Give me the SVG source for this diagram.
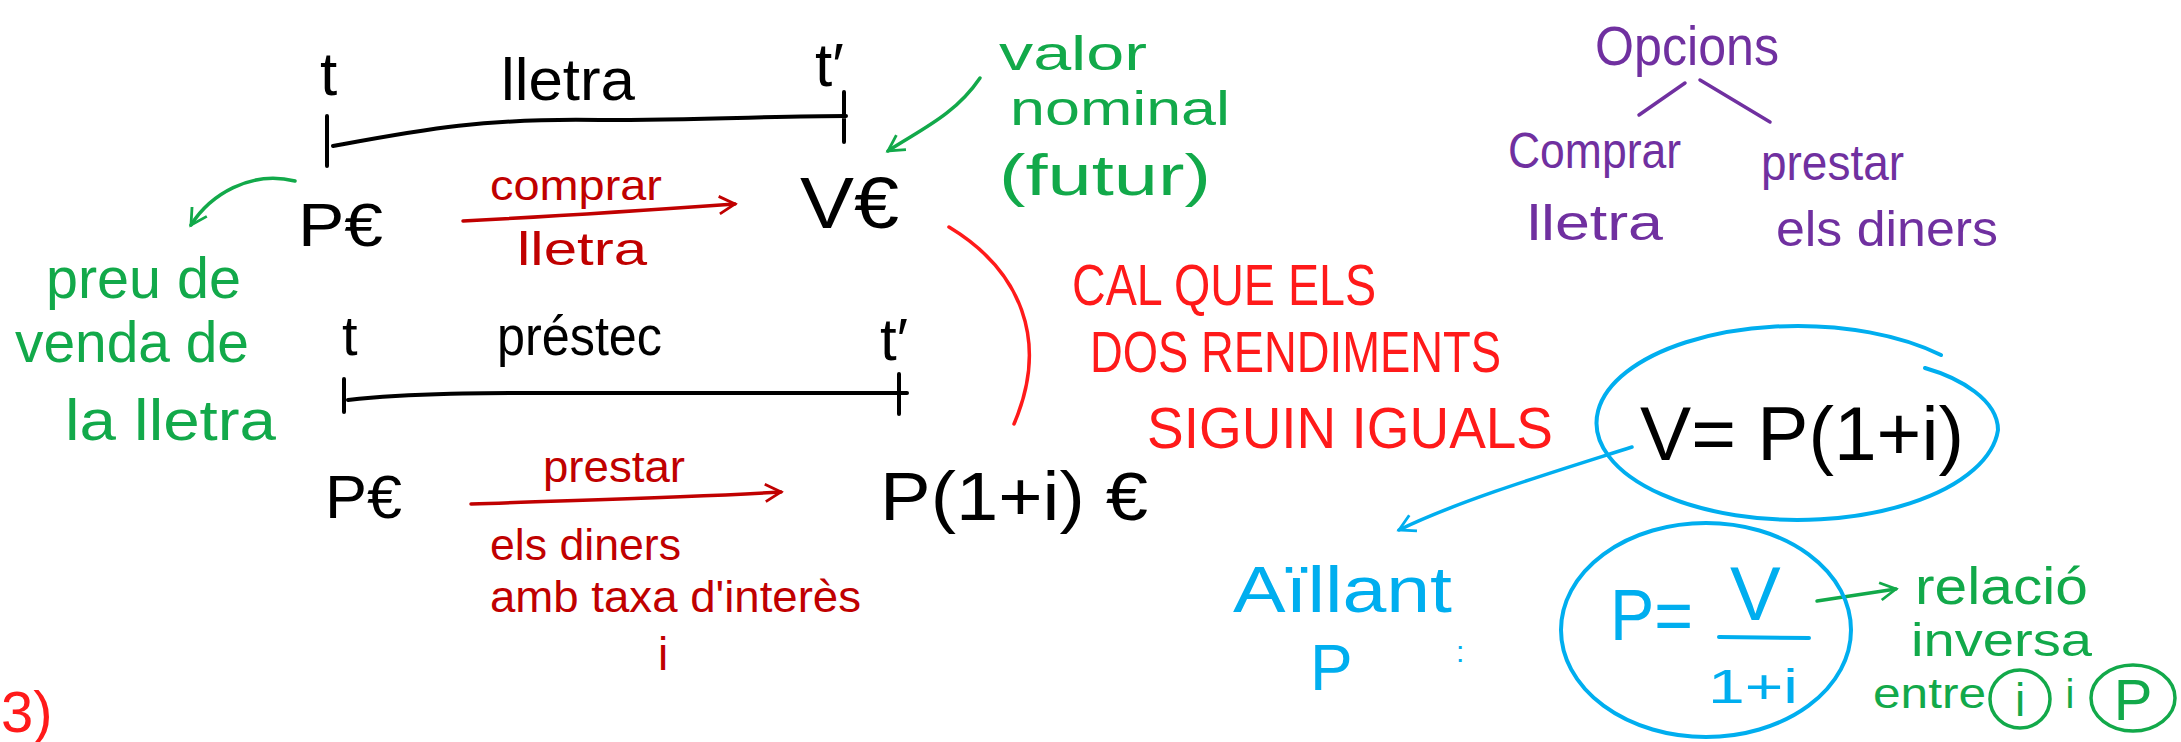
<svg xmlns="http://www.w3.org/2000/svg" width="2181" height="742" viewBox="0 0 2181 742">
<defs>
<style>
text{font-family:"Liberation Sans","DejaVu Sans",sans-serif;}
.k{fill:#000}
.g{fill:#12a94a}
.r{fill:#c00000}
.rb{fill:#ff1a1a}
.p{fill:#7030a0}
.b{fill:#00aeef}
.ln{fill:none;stroke-linecap:round;stroke-linejoin:round}
</style>
<marker id="ag" viewBox="0 0 12 12" refX="10" refY="6" markerWidth="6" markerHeight="6" orient="auto" markerUnits="strokeWidth"><path d="M1,1 L10,6 L1,11" fill="none" stroke="#12a94a" stroke-width="1.6"/></marker>
<marker id="ar" viewBox="0 0 12 12" refX="10" refY="6" markerWidth="6" markerHeight="6" orient="auto" markerUnits="strokeWidth"><path d="M1,1 L10,6 L1,11" fill="none" stroke="#c00000" stroke-width="1.6"/></marker>
<marker id="ab" viewBox="0 0 12 12" refX="10" refY="6" markerWidth="6" markerHeight="6" orient="auto" markerUnits="strokeWidth"><path d="M1,1 L10,6 L1,11" fill="none" stroke="#00aeef" stroke-width="1.6"/></marker>
</defs>
<rect width="2181" height="742" fill="#fff"/>

<g id="connectors">
<path class="ln" d="M327,116 L327,166 M333,146 C420,130 480,118 600,120 C700,120 780,116 846,116 M844,92 L844,142" stroke="#000" stroke-width="4"/>
<path class="ln" d="M344,379 L344,412 M348,400 C420,392 500,393 600,393 C700,393 800,393 907,393 M899,374 L899,414" stroke="#000" stroke-width="4"/>
<path class="ln" d="M463,221 C560,216 650,210 735,204" stroke="#c00000" stroke-width="3.5" marker-end="url(#ar)"/>
<path class="ln" d="M471,504 C580,500 680,498 781,492" stroke="#c00000" stroke-width="3.5" marker-end="url(#ar)"/>
<path class="ln" d="M980,78 C955,115 920,130 888,151" stroke="#12a94a" stroke-width="3.5" marker-end="url(#ag)"/>
<path class="ln" d="M295,181 C250,170 210,195 191,225" stroke="#12a94a" stroke-width="3.5" marker-end="url(#ag)"/>
<path class="ln" d="M949,227 C1020,270 1050,340 1014,424" stroke="#ff1a1a" stroke-width="3.5"/>
<path class="ln" d="M1685,83 L1639,115 M1700,80 L1770,122" stroke="#7030a0" stroke-width="3.5"/>
<path class="ln" d="M1632,447 C1560,470 1460,500 1399,530" stroke="#00aeef" stroke-width="3.5" marker-end="url(#ab)"/>
<path class="ln" d="M1817,601 L1896,589" stroke="#12a94a" stroke-width="3.5" marker-end="url(#ag)"/>
</g>

<g id="lletra-timeline">
<text class="k" x="320" y="95" font-size="62">t</text>
<text class="k" x="501" y="100" font-size="60" textLength="134" lengthAdjust="spacingAndGlyphs">lletra</text>
<text class="k" x="815" y="86" font-size="62">t′</text>
</g>
<g id="pe1"><text class="k" x="298" y="246" font-size="62" textLength="85" lengthAdjust="spacingAndGlyphs">P€</text></g>
<g id="ve"><text class="k" x="800" y="228" font-size="72" textLength="99" lengthAdjust="spacingAndGlyphs">V€</text></g>
<g id="comprar-lletra">
<text class="r" x="490" y="200" font-size="42" textLength="172" lengthAdjust="spacingAndGlyphs">comprar</text>
<text class="r" x="517" y="265" font-size="46" textLength="130" lengthAdjust="spacingAndGlyphs">lletra</text>
</g>
<g id="prestec-timeline">
<text class="k" x="342" y="355" font-size="56">t</text>
<text class="k" x="497" y="355" font-size="56" textLength="165" lengthAdjust="spacingAndGlyphs">préstec</text>
<text class="k" x="880" y="360" font-size="60">t′</text>
</g>
<g id="pe2"><text class="k" x="325" y="518" font-size="62" textLength="77" lengthAdjust="spacingAndGlyphs">P€</text></g>
<g id="p1i"><text class="k" x="880" y="520" font-size="68" textLength="268" lengthAdjust="spacingAndGlyphs">P(1+i) €</text></g>
<g id="prestar-label">
<text class="r" x="543" y="482" font-size="44" textLength="142" lengthAdjust="spacingAndGlyphs">prestar</text>
<text class="r" x="490" y="560" font-size="44" textLength="191" lengthAdjust="spacingAndGlyphs">els diners</text>
<text class="r" x="490" y="612" font-size="44" textLength="371" lengthAdjust="spacingAndGlyphs">amb taxa d'interès</text>
<text class="r" x="658" y="670" font-size="46">i</text>
</g>
<g id="num3"><text class="rb" x="1" y="732" font-size="58">3)</text></g>
<g id="valor-nominal">
<text class="g" x="999" y="70" font-size="48" textLength="148" lengthAdjust="spacingAndGlyphs">valor</text>
<text class="g" x="1010" y="125" font-size="48" textLength="220" lengthAdjust="spacingAndGlyphs">nominal</text>
<text class="g" x="999" y="195" font-size="58" textLength="212" lengthAdjust="spacingAndGlyphs">(futur)</text>
</g>
<g id="preu-venda">
<text class="g" x="46" y="298" font-size="58" textLength="195" lengthAdjust="spacingAndGlyphs">preu de</text>
<text class="g" x="15" y="362" font-size="58" textLength="234" lengthAdjust="spacingAndGlyphs">venda de</text>
<text class="g" x="65" y="440" font-size="58" textLength="211" lengthAdjust="spacingAndGlyphs">la lletra</text>
</g>
<g id="cal-que">
<text class="rb" x="1072" y="305" font-size="58" textLength="304" lengthAdjust="spacingAndGlyphs">CAL QUE ELS</text>
<text class="rb" x="1090" y="372" font-size="58" textLength="411" lengthAdjust="spacingAndGlyphs">DOS RENDIMENTS</text>
<text class="rb" x="1147" y="448" font-size="58" textLength="406" lengthAdjust="spacingAndGlyphs">SIGUIN IGUALS</text>
</g>
<g id="opcions">
<text class="p" x="1595" y="65" font-size="56" textLength="184" lengthAdjust="spacingAndGlyphs">Opcions</text>
<text class="p" x="1508" y="168" font-size="50" textLength="173" lengthAdjust="spacingAndGlyphs">Comprar</text>
<text class="p" x="1527" y="240" font-size="50" textLength="136" lengthAdjust="spacingAndGlyphs">lletra</text>
<text class="p" x="1761" y="180" font-size="50" textLength="143" lengthAdjust="spacingAndGlyphs">prestar</text>
<text class="p" x="1776" y="246" font-size="50" textLength="222" lengthAdjust="spacingAndGlyphs">els diners</text>
</g>
<g id="eq1">
<path class="ln" d="M1941,355 A201,97 0 1 0 1998,430 C1998,400 1960,378 1925,368" stroke="#00aeef" stroke-width="4"/>
<text class="k" x="1640" y="460" font-size="76" textLength="324" lengthAdjust="spacingAndGlyphs">V= P(1+i)</text>
</g>
<g id="aillant">
<text class="b" x="1233" y="612" font-size="64" textLength="219" lengthAdjust="spacingAndGlyphs">Aïllant</text>
<text class="b" x="1310" y="690" font-size="64">P</text>
<text class="b" x="1456" y="662" font-size="30">:</text>
</g>
<g id="eq2">
<ellipse cx="1706" cy="630" rx="145" ry="107" fill="none" stroke="#00aeef" stroke-width="4"/>
<text class="b" x="1610" y="640" font-size="72" textLength="83" lengthAdjust="spacingAndGlyphs">P=</text>
<text class="b" x="1730" y="620" font-size="76">V</text>
<path class="ln" d="M1719,637 L1809,638" stroke="#00aeef" stroke-width="4"/>
<text class="b" x="1708" y="703" font-size="48" textLength="90" lengthAdjust="spacingAndGlyphs">1+i</text>
</g>
<g id="relacio">
<text class="g" x="1915" y="604" font-size="52" textLength="173" lengthAdjust="spacingAndGlyphs">relació</text>
<text class="g" x="1911" y="656" font-size="46" textLength="181" lengthAdjust="spacingAndGlyphs">inversa</text>
<text class="g" x="1873" y="708" font-size="42" textLength="113" lengthAdjust="spacingAndGlyphs">entre</text>
<ellipse cx="2020" cy="699" rx="30" ry="29" fill="none" stroke="#12a94a" stroke-width="3.5"/>
<text class="g" x="2020" y="716" font-size="46" text-anchor="middle">i</text>
<text class="g" x="2070" y="708" font-size="40" text-anchor="middle">i</text>
<ellipse cx="2133" cy="698" rx="42" ry="33" fill="none" stroke="#12a94a" stroke-width="3.5"/>
<text class="g" x="2133" y="720" font-size="58" text-anchor="middle">P</text>
</g>
</svg>
